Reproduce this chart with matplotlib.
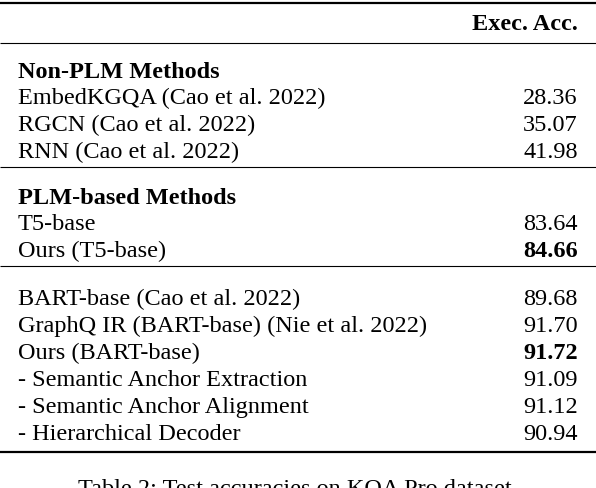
import matplotlib.pyplot as plt

plt.rcParams['font.family'] = ['Liberation Serif', 'DejaVu Serif']

groups = ['Non-PLM Methods', 'PLM-based Methods', None]
methods = [
    ['EmbedKGQA (Cao et al. 2022)', 'RGCN (Cao et al. 2022)', 'RNN (Cao et al. 2022)'],
    ['T5-base', 'Ours (T5-base)'],
    ['BART-base (Cao et al. 2022)', 'GraphQ IR (BART-base) (Nie et al. 2022)',
     'Ours (BART-base)', '- Semantic Anchor Extraction',
     '- Semantic Anchor Alignment', '- Hierarchical Decoder'],
]
scores = [
    ['28.36', '35.07', '41.98'],
    ['83.64', '84.66'],
    ['89.68', '91.70', '91.72', '91.09', '91.12', '90.94'],
]
best = [None, 1, 2]

fig = plt.figure(figsize=(5.96, 4.88), dpi=100)
ax = fig.add_axes([0, 0, 1, 1])
ax.set_xlim(0, 596)
ax.set_ylim(488, 0)
ax.axis('off')

fs = 17.5
lx, rx = 18, 578
off = 7  # baseline below row centre
ax.hlines(3, 0, 596, color='black', lw=1.6)
ax.text(rx, 23 + off, 'Exec. Acc.', ha='right', va='baseline', fontsize=fs, fontweight='bold')
ax.hlines(43, 0, 596, color='black', lw=0.8)

y = 71
for g, names, vals, b in zip(groups, methods, scores, best):
    if g:
        ax.text(lx, y + off, g, ha='left', va='baseline', fontsize=fs, fontweight='bold')
        y += 26
    else:
        y += 2
    for i, (n, v) in enumerate(zip(names, vals)):
        ax.text(lx, y + off, n, ha='left', va='baseline', fontsize=fs)
        ax.text(rx, y + off, v, ha='right', va='baseline', fontsize=fs,
                fontweight='bold' if i == b else 'normal')
        y += 27
    if g:
        ax.hlines(y - 11, 0, 596, color='black', lw=0.8)
        y += 19
ax.hlines(452, 0, 596, color='black', lw=1.6)
ax.text(298, 494, 'Table 2: Test accuracies on KQA Pro dataset.', ha='center',
        va='baseline', fontsize=fs)

fig.savefig('out.png', dpi=100)
